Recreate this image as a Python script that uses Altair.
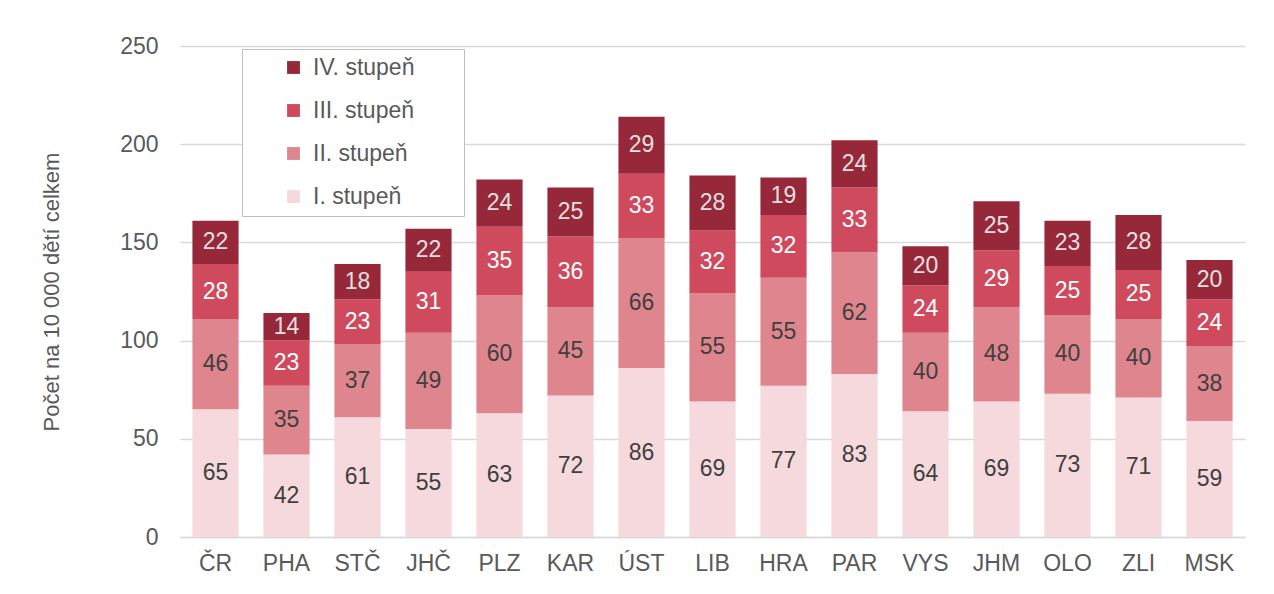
import altair as alt
import pandas as pd

regions = ["ČR", "PHA", "STČ", "JHČ", "PLZ", "KAR", "ÚST", "LIB", "HRA", "PAR", "VYS", "JHM", "OLO", "ZLI", "MSK"]
stupen_I = [65, 42, 61, 55, 63, 72, 86, 69, 77, 83, 64, 69, 73, 71, 59]
stupen_II = [46, 35, 37, 49, 60, 45, 66, 55, 55, 62, 40, 48, 40, 40, 38]
stupen_III = [28, 23, 23, 31, 35, 36, 33, 32, 32, 33, 24, 29, 25, 25, 24]
stupen_IV = [22, 14, 18, 22, 24, 25, 29, 28, 19, 24, 20, 25, 23, 28, 20]

series_names = ["I. stupeň", "II. stupeň", "III. stupeň", "IV. stupeň"]
series_values = [stupen_I, stupen_II, stupen_III, stupen_IV]
colors = ["#F5D9DD", "#DE858D", "#D04A5E", "#96283A"]
label_colors = ["#404040", "#404040", "#FFFFFF", "#E0E0E0"]

rows = []
for si, (name, vals) in enumerate(zip(series_names, series_values)):
    for r, v in zip(regions, vals):
        rows.append({"region": r, "series": name, "value": v, "order": si, "lcolor": label_colors[si]})
df = pd.DataFrame(rows)

FONT = "Liberation Sans"
FS = 23

base = alt.Chart(df).transform_stack(
    stack="value", groupby=["region"], sort=[alt.SortField("order")], as_=["y0", "y1"]
).transform_calculate(mid="(datum.y0 + datum.y1) / 2")

x_enc = alt.X("region:N", sort=regions, title=None,
              scale=alt.Scale(paddingInner=0.35, paddingOuter=0.175),
              axis=alt.Axis(labelAngle=0, ticks=False, domainColor="#D9D9D9", domainWidth=1.5,
                            labelPadding=15, labelFontSize=FS, labelColor="#595959", labelFont=FONT))

bars = base.mark_bar().encode(
    x=x_enc,
    y=alt.Y("y0:Q", title="Počet na  10 000 dětí celkem",
            scale=alt.Scale(domain=[0, 250], nice=False),
            axis=alt.Axis(values=[0, 50, 100, 150, 200, 250], ticks=False, domain=False,
                          gridColor="#D9D9D9", gridWidth=1.5, labelPadding=22,
                          labelFontSize=FS, labelColor="#595959", labelFont=FONT,
                          titleFontSize=22, titleColor="#595959", titleFont=FONT,
                          titleFontWeight="normal", titlePadding=56)),
    y2="y1:Q",
    color=alt.Color("series:N",
                    scale=alt.Scale(domain=series_names[::-1], range=colors[::-1]),
                    legend=alt.Legend(title="\u00a0", titleOrient="right", titlePadding=43,
                                      titleFontSize=4,
                                      orient="none", legendX=62, legendY=3,
                                      symbolType="square", symbolSize=165, symbolStrokeWidth=0,
                                      symbolOpacity=1,
                                      labelFontSize=FS, labelColor="#595959", labelFont=FONT,
                                      rowPadding=19, padding=7, symbolOffset=33, labelOffset=8,
                                      strokeColor="#BFBFBF", fillColor="#FFFFFF")),
    order=alt.Order("order:Q"),
)

labels = base.mark_text(fontSize=FS, font=FONT, baseline="middle").encode(
    x=alt.X("region:N", sort=regions),
    y=alt.Y("mid:Q"),
    text=alt.Text("value:Q"),
    color=alt.Color("lcolor:N", scale=None),
)

chart = alt.layer(bars, labels).properties(
    width=1065, height=491,
    autosize=alt.AutoSizeParams(type="none"),
    padding={"left": 172, "top": 38, "right": 10, "bottom": 40},
).configure_view(stroke=None)

chart.save("out.html", embed_options={"renderer": "svg", "actions": False})
